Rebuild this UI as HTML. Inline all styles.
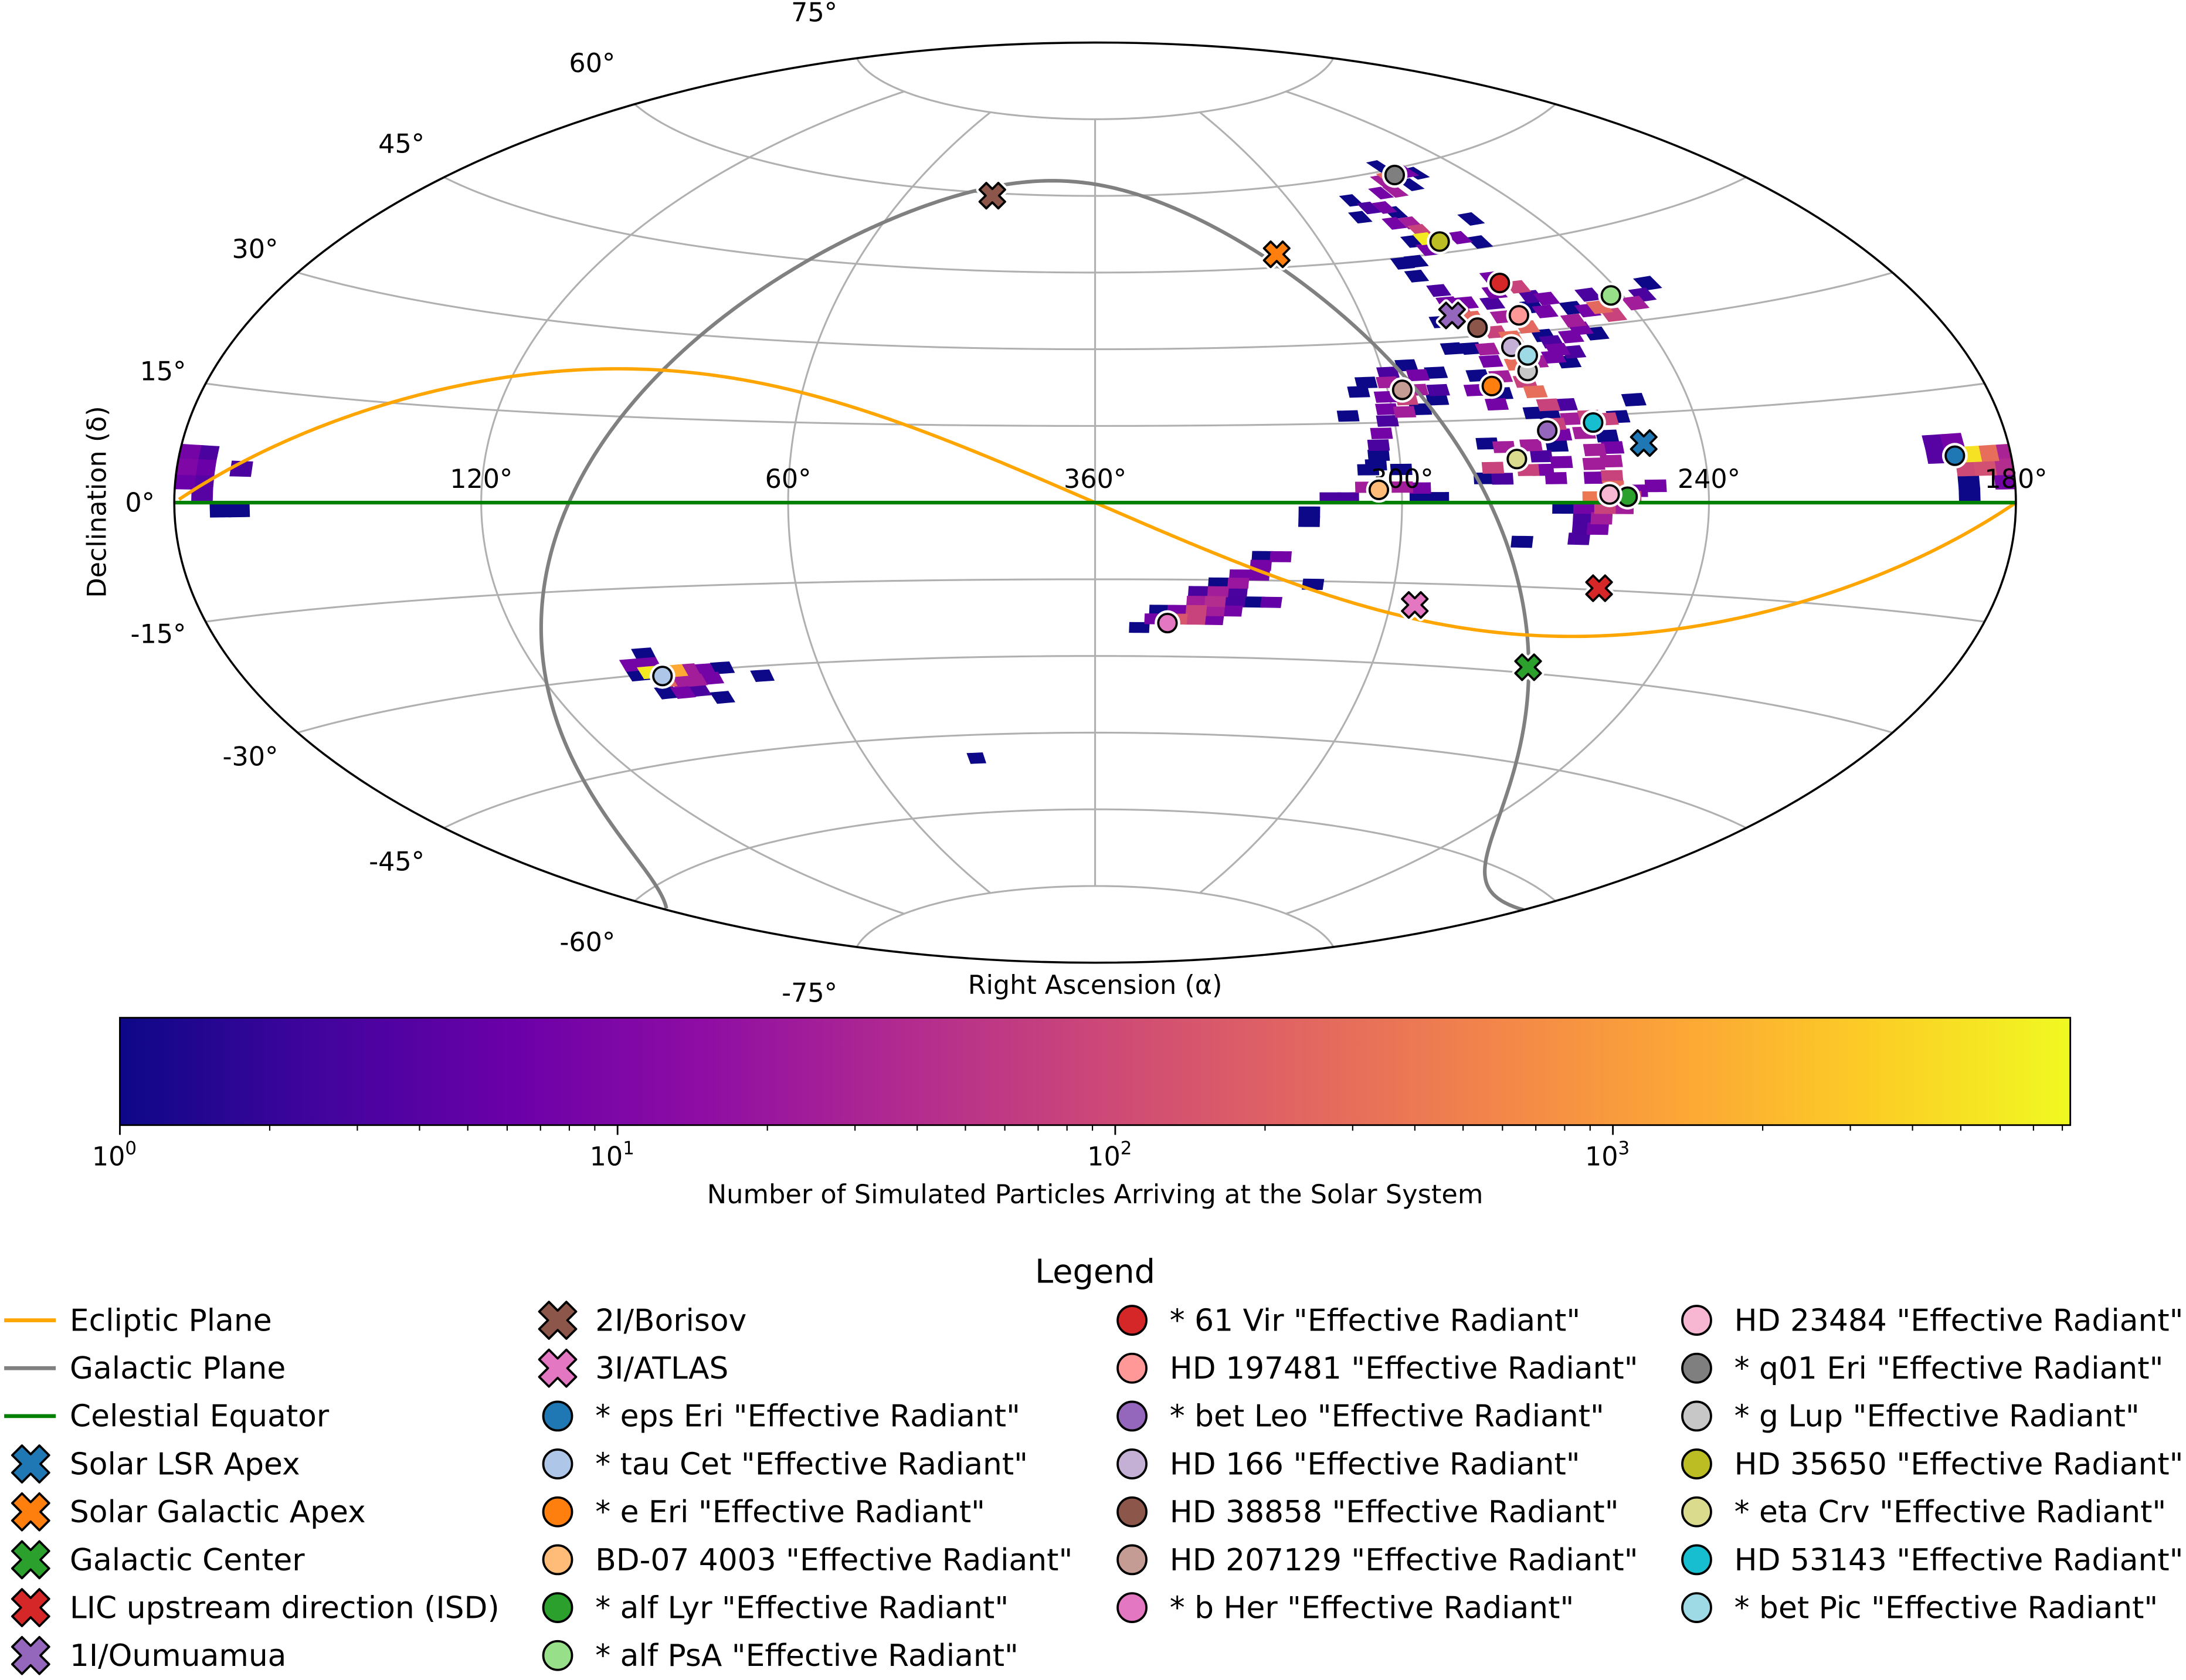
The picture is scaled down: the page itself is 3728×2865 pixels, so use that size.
<!DOCTYPE html>
<html><head><meta charset="utf-8"><title>Simulated particle radiants</title>
<style>html,body{margin:0;padding:0;background:#fff}svg{display:block}text{font-family:"DejaVu Sans","Liberation Sans",sans-serif}</style>
</head><body>
<svg id="fig" xmlns="http://www.w3.org/2000/svg" width="3728" height="2865" viewBox="0 0 1568 1205">
<defs>
<clipPath id="clipEll"><ellipse cx="785.5" cy="360.5" rx="660.5" ry="330"/></clipPath>
<linearGradient id="plasma" x1="0" x2="1" y1="0" y2="0">
<stop offset="0" stop-color="#0d0887"/><stop offset="0.1" stop-color="#41049d"/><stop offset="0.2" stop-color="#6a00a8"/><stop offset="0.3" stop-color="#8f0da4"/><stop offset="0.4" stop-color="#b12a90"/><stop offset="0.5" stop-color="#cc4778"/><stop offset="0.6" stop-color="#e16462"/><stop offset="0.7" stop-color="#f2844b"/><stop offset="0.8" stop-color="#fca636"/><stop offset="0.9" stop-color="#fcce25"/><stop offset="1" stop-color="#f0f921"/>
</linearGradient>
</defs>
<g id="grid"></g>
<g id="cells" clip-path="url(#clipEll)"></g>
<g id="curves" clip-path="url(#clipEll)"></g>
<ellipse cx="785.5" cy="360.5" rx="660.5" ry="330" fill="none" stroke="#000" stroke-width="1.5"/>
<g id="ticks" font-size="18.7"></g>
<g id="marks"></g>
<text x="0" y="0" font-size="18.7" text-anchor="middle" transform="translate(76,360) rotate(-90)">Declination (δ)</text>
<text x="785.5" y="713" font-size="18.7" text-anchor="middle">Right Ascension (α)</text>
<g id="cbar">
<rect x="86" y="730" width="1399" height="77" fill="url(#plasma)" stroke="#000" stroke-width="1.2"/>
</g>
<text x="785.5" y="863" font-size="18.8" text-anchor="middle">Number of Simulated Particles Arriving at the Solar System</text>
<text x="785.5" y="920" font-size="23.5" text-anchor="middle">Legend</text>
<g id="legend" font-size="21.8"></g>
</svg>
<script>
// ---------- data ----------
const cellRA=[261.7,256.5,254.3,266.7,263.8,260.3,271.6,267.0,282.2,279.5,275.2,284.3,273.8,276.9,272.6,272.1,256.3,276.5,272.9,264.3,260.5,274.5,283.4,279.8,282.3,279.5,279.2,275.2,277.6,283.2,275.9,267.3,269.5,261.2,259.9,256.9,261.3,259.3,265.2,265.3,269.2,272.7,270.0,263.0,262.0,257.3,254.3,251.7,252.9,250.0,247.0,245.3,238.7,232.3,235.7,247.2,254.6,283.6,279.6,276.3,261.7,258.7,276.7,271.7,267.4,263.3,260.7,280.6,276.0,271.4,282.1,277.1,270.1,278.7,268.4,264.9,304.0,306.0,298.9,294.6,299.6,292.9,289.0,294.0,289.7,296.6,290.4,300.8,301.1,297.6,294.3,301.4,303.0,303.9,304.1,304.8,309.1,306.4,299.9,307.0,299.9,296.4,296.4,292.9,314.0,310.5,318.1,318.1,271.6,268.8,268.2,264.5,260.9,257.6,255.2,250.9,267.6,262.8,258.4,273.8,268.7,261.4,257.8,272.1,268.3,262.0,258.5,282.4,279.2,281.9,283.7,280.2,272.1,269.7,275.0,262.1,258.7,258.6,254.0,250.3,255.3,262.6,268.5,264.4,260.3,256.8,264.4,260.9,264.4,261.5,265.0,276.1,
95.8,99.5,95.8,99.5,96.7,91.1,88.4,85.0,80.8,94.7,91.2,88.1,84.3,95.8,92.3,88.6,84.4,73.1,
350.8,346.8,343.1,347.7,343.1,339.3,335.6,339.3,335.6,332.0,339.3,335.6,331.6,327.7,324.2,339.1,335.2,331.4,335.2,331.3,331.1,327.3,327.1,326.9,323.3,316.3,
178.2,174.6,178.2,174.6,178.2,174.6,174.6,167.4,171.0,167.4,
194.4,190.8,194.4,188.0,184.6,181.8,189.0,185.5,181.8,189.0,189.0,181.8,
31.5];
const cellDec=[60.8,59.2,58.6,58.4,58.7,57.0,56.5,56.4,56.0,54.3,54.0,52.9,52.9,51.1,50.8,49.3,49.9,47.6,47.8,47.2,46.0,45.9,44.0,44.1,41.5,38.6,36.3,36.0,33.9,33.0,33.4,37.3,35.5,37.8,35.9,35.3,34.2,33.2,39.8,30.9,33.0,30.5,29.4,29.2,28.0,28.6,29.8,28.7,33.3,32.6,32.9,31.4,32.8,35.5,33.9,35.1,31.2,28.1,27.9,27.6,26.6,26.0,25.4,24.6,24.8,25.4,24.4,23.0,22.6,21.5,20.4,19.6,19.6,17.7,17.2,17.1,22.6,20.9,24.3,25.5,22.5,23.6,23.9,20.9,20.7,19.2,19.0,19.8,17.5,16.9,17.3,15.3,13.0,10.8,8.9,7.1,16.4,6.2,6.2,2.9,2.9,2.7,0.9,0.9,0.9,0.9,-1.8,-3.6,15.9,15.8,13.8,14.6,14.9,14.3,14.6,17.3,11.9,12.1,11.4,10.2,10.0,9.1,9.4,8.2,7.1,6.7,7.1,10.7,10.0,6.3,4.4,4.3,5.8,4.3,5.8,4.3,4.5,2.7,2.0,2.8,0.9,0.9,-0.9,-0.9,-0.9,-0.9,-2.7,-2.7,-4.5,-4.5,-6.3,-7.0,
-26.5,-28.2,-28.2,-29.9,-29.7,-29.8,-29.8,-30.0,-29.9,-31.4,-31.6,-31.7,-31.6,-33.4,-33.6,-33.5,-35.1,-31.8,
-24.4,-21.0,-21.0,-22.7,-22.7,-22.7,-22.7,-21.0,-21.0,-21.0,-19.2,-19.2,-19.2,-19.2,-19.2,-17.3,-17.3,-17.3,-15.6,-15.6,-14.0,-14.0,-12.1,-10.4,-10.4,-15.6,
6.3,6.3,4.5,4.5,2.7,2.7,0.9,4.5,-0.9,-0.9,
8.1,8.1,6.3,6.3,6.3,6.3,4.5,4.5,4.5,2.7,0.9,2.7,
-49.5];
const cellCount=[1,8,1,25,250,1,8,25,1,3,8,1,1,8,25,80,1,1,6000,8,1,8,1,1,1,3,8,8,80,1,250,8,3,80,3,8,1,8,8,250,25,80,300,1,3,8,8,1,1,8,250,80,25,1,3,3,25,1,1,25,8,3,8,300,25,8,1,1,25,80,8,1,300,8,80,3,1,1,3,1,25,8,1,25,3,80,1,8,8,25,1,3,8,3,1,1,1,1,1,25,25,8,1,1,3,3,1,1,1,1,80,25,80,80,1,1,8,25,1,25,1,25,8,3,8,25,25,1,25,80,1,3,8,8,80,8,80,250,8,8,80,400,1,8,80,25,3,25,3,8,3,1,
1,8,8,1,6000,1500,25,8,1,250,25,25,8,1,8,3,1,1,
1,1,8,8,150,80,8,80,25,8,25,40,3,1,5,3,25,3,1,20,8,8,8,1,8,1,
8,3,10,6,6,4,4,3,1,1,
4,8,4,5000,300,30,100,120,40,1,1,8,
1];
const vmax=8300;
const starNames=['* eps Eri "Effective Radiant"','* tau Cet "Effective Radiant"','* e Eri "Effective Radiant"','BD-07 4003 "Effective Radiant"','* alf Lyr "Effective Radiant"','* alf PsA "Effective Radiant"','* 61 Vir "Effective Radiant"','HD 197481 "Effective Radiant"','* bet Leo "Effective Radiant"','HD 166 "Effective Radiant"','HD 38858 "Effective Radiant"','HD 207129 "Effective Radiant"','* b Her "Effective Radiant"','HD 23484 "Effective Radiant"','* q01 Eri "Effective Radiant"','* g Lup "Effective Radiant"','HD 35650 "Effective Radiant"','* eta Crv "Effective Radiant"','HD 53143 "Effective Radiant"','* bet Pic "Effective Radiant"'];
const starRA=[191,94.5,278.5,304.5,255.9,242.5,264.5,265.5,270,271,276,297,345,259.4,261,270,270,277,260.5,268.5];
const starDec=[6.2,-30.5,21,2.4,1.0,34.5,38.8,33,12.7,27.7,31.5,21,-23.5,1.4,59,23.3,47,7.8,13.8,26];
const starColors=['#1f77b4','#aec7e8','#ff7f0e','#ffbb78','#2ca02c','#98df8a','#d62728','#ff9896','#9467bd','#c5b0d5','#8c564b','#c49c94','#e377c2','#f7b6d2','#7f7f7f','#c7c7c7','#bcbd22','#dbdb8d','#17becf','#9edae5'];
const crossNames=['Solar LSR Apex','Solar Galactic Apex','Galactic Center','LIC upstream direction (ISD)','1I/Oumuamua','2I/Borisov','3I/ATLAS'];
const crossRA=[251.5,313,266.5,259,280,33,295];
const crossDec=[10,47.5,-29,-14.7,34,59.5,-19];
const crossColors=['#1f77b4','#ff7f0e','#2ca02c','#d62728','#9467bd','#8c564b','#e377c2'];
const raTicks=[120,60,360,300,240,180];
const decTicks=[75,60,45,30,15,0,-15,-30,-45,-60,-75];
const cbarTicks=[1,10,100,1000];
const cbarTickExp=['0','1','2','3'];
// ---------- helpers ----------
const NS='http://www.w3.org/2000/svg';
const cx=785.5, cy=360.5, A=660.5, B=330, D=Math.PI/180;
function projLon(lonDeg,dec){const lam=lonDeg*D,phi=dec*D;const al=Math.acos(Math.max(-1,Math.min(1,Math.cos(phi)*Math.cos(lam/2))));const s=al<1e-9?1:Math.sin(al)/al;const X=2*Math.cos(phi)*Math.sin(lam/2)/s,Y=Math.sin(phi)/s;return [cx+X/Math.PI*A, cy-Y/(Math.PI/2)*B];}
function raToLon(ra){const r=((ra+180)%360+360)%360-180;return -r;}
function proj(ra,dec){return projLon(raToLon(ra),dec);}
function mk(tag,parent){const e=document.createElementNS(NS,tag);parent.appendChild(e);return e;}
const PL=[[0,'#0d0887'],[0.1,'#41049d'],[0.2,'#6a00a8'],[0.3,'#8f0da4'],[0.4,'#b12a90'],[0.5,'#cc4778'],[0.6,'#e16462'],[0.7,'#f2844b'],[0.8,'#fca636'],[0.9,'#fcce25'],[1,'#f0f921']];
function hx(h){return [parseInt(h.substr(1,2),16),parseInt(h.substr(3,2),16),parseInt(h.substr(5,2),16)];}
function plasma(t){t=Math.max(0,Math.min(1,t));for(let i=0;i<PL.length-1;i++){if(t<=PL[i+1][0]){const f=(t-PL[i][0])/(PL[i+1][0]-PL[i][0]);const a=hx(PL[i][1]),b=hx(PL[i+1][1]);return 'rgb('+a.map((v,k)=>Math.round(v+(b[k]-v)*f)).join(',')+')';}}return PL[PL.length-1][1];}
function cnorm(v){return Math.log10(v)/Math.log10(vmax);}
function polyPath(pts){return pts.map((p,i)=>(i?'L':'M')+p[0].toFixed(2)+','+p[1].toFixed(2)).join('');}
function brokenPath(pts){let d='';for(let i=0;i<pts.length;i++){const p=pts[i];if(i===0||Math.abs(p[0]-pts[i-1][0])>300)d+='M';else d+='L';d+=p[0].toFixed(2)+','+p[1].toFixed(2);}return d;}
// ---------- grid ----------
const grid=document.getElementById('grid');
[-75,-60,-45,-30,-15,15,30,45,60,75].forEach(dec=>{const pts=[];for(let l=-180;l<=180;l+=2)pts.push(projLon(l,dec));const p=mk('path',grid);p.setAttribute('d',polyPath(pts));p.setAttribute('fill','none');p.setAttribute('stroke','#b0b0b0');p.setAttribute('stroke-width','1.3');

});
[-120,-60,0,60,120].forEach(l=>{const pts=[];for(let d=-75;d<=75;d+=1)pts.push(projLon(l,d));const p=mk('path',grid);p.setAttribute('d',polyPath(pts));p.setAttribute('fill','none');p.setAttribute('stroke','#b0b0b0');p.setAttribute('stroke-width','1.3');

});
// ---------- heatmap cells ----------
const cg=document.getElementById('cells');
const order=cellCount.map((c,i)=>i).sort((a,b)=>cellCount[a]-cellCount[b]);
order.forEach(i=>{const ra=cellRA[i],de=cellDec[i],w=2.05,h=1.0;const lc=raToLon(ra);const cl=v=>Math.max(-180,Math.min(180,v));const pts=[];
for(let k=0;k<=4;k++)pts.push(projLon(cl(lc-w+2*w*k/4),de-h));
for(let k=0;k<=4;k++)pts.push(projLon(cl(lc+w-2*w*k/4),de+h));
const p=mk('path',cg);const col=plasma(cnorm(cellCount[i]));p.setAttribute('d',polyPath(pts)+'Z');p.setAttribute('fill',col);p.setAttribute('stroke',col);p.setAttribute('stroke-width','0.4');

});
// ---------- curves ----------
const cv=document.getElementById('curves');
const eps=23.44*D;const ecl=[];for(let L=0;L<=360;L+=1){const Lr=L*D;let ra=Math.atan2(Math.sin(Lr)*Math.cos(eps),Math.cos(Lr))/D;const de=Math.asin(Math.sin(eps)*Math.sin(Lr))/D;ecl.push(proj((ra+360)%360,de));}
const aG=192.85948,dG=27.12825*D,lN=122.93192;const gal=[];for(let l=0;l<=360;l+=0.5){const t=(lN-l)*D;const de=Math.asin(Math.cos(dG)*Math.cos(t))/D;const ra=aG+Math.atan2(Math.sin(t),-Math.sin(dG)*Math.cos(t))/D;gal.push(proj((ra+720)%360,de));}
function addCurve(pts,col,w,name){const p=mk('path',cv);p.setAttribute('d',brokenPath(pts));p.setAttribute('fill','none');p.setAttribute('stroke',col);p.setAttribute('stroke-width',w);p.setAttribute('stroke-linejoin','round');

}
addCurve(gal,'#808080','2.6','galactic-plane-line');
addCurve(ecl,'#ffa500','2.4','ecliptic-line');
{const pts=[];for(let l=-180;l<=180;l+=5)pts.push(projLon(l,0));addCurve(pts,'#008000','2.6','celestial-equator-line');}
// ---------- tick labels ----------
const tg=document.getElementById('ticks');
raTicks.forEach(ra=>{const p=proj(ra,0);const t=mk('text',tg);t.setAttribute('x',(Math.min(p[0],1446)).toFixed(1));t.setAttribute('y','350');t.setAttribute('text-anchor','middle');t.textContent=ra+'°';

});
decTicks.forEach(de=>{const p=projLon(-179.999,de);const t=mk('text',tg);t.setAttribute('x',(p[0]-14).toFixed(1));t.setAttribute('y',(p[1]-34*Math.sin(de*D)+6.5).toFixed(1));t.setAttribute('text-anchor','end');t.textContent=de+'°';

});
// ---------- markers ----------
function xPath(s){const L=9.5*s,W=3.4*s;const pts=[[W,L],[W,W],[L,W],[L,-W],[W,-W],[W,-L],[-W,-L],[-W,-W],[-L,-W],[-L,W],[-W,W],[-W,L]];const c=Math.SQRT1_2;return pts.map((p,i)=>(i?'L':'M')+((p[0]-p[1])*c).toFixed(2)+','+((p[0]+p[1])*c).toFixed(2)).join('')+'Z';}
function drawCross(parent,x,y,col,s,halo){const g=mk('g',parent);g.setAttribute('transform','translate('+x.toFixed(2)+','+y.toFixed(2)+')');if(halo){const h=mk('path',g);h.setAttribute('d',xPath(s));h.setAttribute('fill','#fff');h.setAttribute('stroke','#fff');h.setAttribute('stroke-width','5');h.setAttribute('stroke-linejoin','round');}const p=mk('path',g);p.setAttribute('d',xPath(s));p.setAttribute('fill',col);p.setAttribute('stroke','#000');p.setAttribute('stroke-width','1.6');p.setAttribute('stroke-linejoin','round');return g;}
function drawDot(parent,x,y,col,r,halo){const g=mk('g',parent);if(halo){const h=mk('circle',g);h.setAttribute('cx',x.toFixed(2));h.setAttribute('cy',y.toFixed(2));h.setAttribute('r',r+2.6);h.setAttribute('fill','#fff');}const c=mk('circle',g);c.setAttribute('cx',x.toFixed(2));c.setAttribute('cy',y.toFixed(2));c.setAttribute('r',r);c.setAttribute('fill',col);c.setAttribute('stroke','#000');c.setAttribute('stroke-width','1.6');return g;}
const mg=document.getElementById('marks');
crossNames.forEach((n,i)=>{const p=proj(crossRA[i],crossDec[i]);const g=drawCross(mg,p[0],p[1],crossColors[i],1,true);

});
starNames.forEach((n,i)=>{const p=proj(starRA[i],starDec[i]);const g=drawDot(mg,p[0],p[1],starColors[i],6.6,true);

});
// ---------- colorbar ticks ----------
const cb=document.getElementById('cbar');
function cbX(v){return 86+cnorm(v)*1399;}
for(let k=0;k<4;k++){for(let m=1;m<10;m++){const v=m*Math.pow(10,k);if(v>vmax)break;const x=cbX(v);const l=mk('line',cb);l.setAttribute('x1',x.toFixed(2));l.setAttribute('x2',x.toFixed(2));l.setAttribute('y1','807');l.setAttribute('y2',m===1?'814':'811');l.setAttribute('stroke','#000');l.setAttribute('stroke-width',m===1?'1.2':'0.9');

}}
cbarTicks.forEach((v,i)=>{const t=mk('text',cb);t.setAttribute('x',(cbX(v)-4).toFixed(1));t.setAttribute('y','836');t.setAttribute('font-size','18.7');t.setAttribute('text-anchor','middle');t.innerHTML='10<tspan dy="-8" font-size="13">'+cbarTickExp[i]+'</tspan>';

});
// ---------- legend ----------
const lg=document.getElementById('legend');
const rowY=k=>947+k*34.35;
const lines=[['Ecliptic Plane','#ffa500'],['Galactic Plane','#808080'],['Celestial Equator','#008000']];
const entries=[];
lines.forEach(l=>entries.push({type:'line',name:l[0],col:l[1]}));
crossNames.forEach((n,i)=>entries.push({type:'x',name:n,col:crossColors[i]}));
starNames.forEach((n,i)=>entries.push({type:'o',name:n,col:starColors[i]}));
const colX=[[22,50],[400,427],[812,839],[1217,1244]];
const perCol=[8,8,7,7];
let idx=0;
perCol.forEach((cnt,c)=>{for(let r=0;r<cnt;r++){const e=entries[idx++];if(!e)return;const y=rowY(r);const g=mk('g',lg);


if(e.type==='line'){const l=mk('line',g);l.setAttribute('x1','3');l.setAttribute('x2','40');l.setAttribute('y1',y);l.setAttribute('y2',y);l.setAttribute('stroke',e.col);l.setAttribute('stroke-width','2.8');}
else if(e.type==='x'){drawCross(g,colX[c][0],y,e.col,1.45,false);}
else{drawDot(g,colX[c][0],y,e.col,10.3,false);}
const t=mk('text',g);t.setAttribute('x',colX[c][1]);t.setAttribute('y',(y+7.5).toFixed(1));t.textContent=e.name;}});
</script>
</body></html>
